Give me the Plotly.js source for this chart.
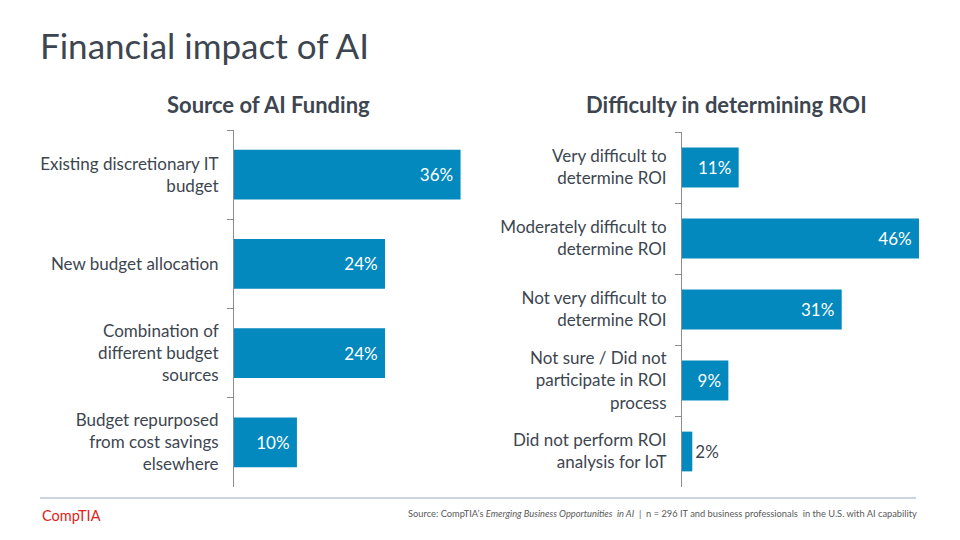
<!DOCTYPE html>
<html><head><meta charset="utf-8">
<script src="https://cdn.plot.ly/plotly-3.0.1.min.js"></script>
<style>html,body{margin:0;padding:0;background:#fff}</style>
</head><body>
<div id="chart" style="width:960px;height:540px"></div>
<script>
const fundingCategories = [
  "Existing discretionary IT<br>budget",
  "New budget allocation",
  "Combination of<br>different budget<br>sources",
  "Budget repurposed<br>from cost savings<br>elsewhere"
];
const fundingValues = [36, 24, 24, 10];

const roiCategories = [
  "Very difficult to<br>determine ROI",
  "Moderately difficult to<br>determine ROI",
  "Not very difficult to<br>determine ROI",
  "Not sure / Did not<br>participate in ROI<br>process",
  "Did not perform ROI<br>analysis for IoT"
];
const roiValues = [11, 46, 31, 9, 2];

const barColor = "#0389BE";
const textDark = "#3d4650";
const font = "Lato, 'Open Sans', sans-serif";

const fundingPos = fundingValues.map(v => v >= 5 ? "inside" : "outside");
const roiPos = roiValues.map(v => v >= 5 ? "inside" : "outside");
const labelText = (v, p) => p === "inside" ? v + "%\u00a0" : v + "%";

const traces = [
  {
    type: "bar", orientation: "h",
    x: fundingValues, y: fundingCategories,
    xaxis: "x", yaxis: "y",
    marker: {color: barColor},
    text: fundingValues.map((v, i) => labelText(v, fundingPos[i])),
    textposition: fundingPos,
    insidetextanchor: "end",
    textfont: {family: font, size: 17, color: fundingPos.map(p => p === "inside" ? "#ffffff" : textDark)},
    cliponaxis: false,
    hoverinfo: "none"
  },
  {
    type: "bar", orientation: "h",
    x: roiValues, y: roiCategories,
    xaxis: "x2", yaxis: "y2",
    marker: {color: barColor},
    text: roiValues.map((v, i) => labelText(v, roiPos[i])),
    textposition: roiPos,
    insidetextanchor: "end",
    textfont: {family: font, size: 17, color: roiPos.map(p => p === "inside" ? "#ffffff" : textDark)},
    cliponaxis: false,
    hoverinfo: "none"
  }
];

const yCommon = {
  type: "category",
  autorange: "reversed",
  showline: true, linecolor: "#8c8c8c", linewidth: 1,
  ticks: "outside", ticklen: 6, tickcolor: "#8c8c8c",
  tickson: "boundaries",
  showgrid: false, zeroline: false,
  ticklabelstandoff: 11,
  tickfont: {family: font, size: 17, color: textDark}
};
const xCommon = {
  showgrid: false, zeroline: false, showline: false, showticklabels: false, ticks: ""
};

const layout = {
  width: 960, height: 540,
  margin: {l: 0, r: 0, t: 0, b: 0},
  paper_bgcolor: "#ffffff", plot_bgcolor: "#ffffff",
  showlegend: false,
  bargap: 0.44,
  xaxis: Object.assign({}, xCommon, {domain: [234/960, 470/960], range: [0, 37.5], anchor: "y"}),
  yaxis: Object.assign({}, yCommon, {domain: [53/540, 410/540], anchor: "x"}),
  xaxis2: Object.assign({}, xCommon, {domain: [682/960, 920/960], range: [0, 46.2], anchor: "y2"}),
  yaxis2: Object.assign({}, yCommon, {domain: [53/540, 408/540], anchor: "x2"}),
  annotations: [
    {xref: "paper", yref: "paper", x: 38/960, y: 1 - 45/540, xanchor: "left", yanchor: "middle",
     text: "Financial impact of AI", showarrow: false,
     font: {family: font, size: 35, color: textDark}},
    {xref: "paper", yref: "paper", x: 268/960, y: 1 - 104/540, xanchor: "center", yanchor: "middle",
     text: "<b>Source of AI Funding</b>", showarrow: false,
     font: {family: font, size: 22, color: textDark}},
    {xref: "paper", yref: "paper", x: 726/960, y: 1 - 104/540, xanchor: "center", yanchor: "middle",
     text: "<b>Difficulty in determining ROI</b>", showarrow: false,
     font: {family: font, size: 22, color: textDark}},
    {xref: "paper", yref: "paper", x: 40/960, y: 1 - 515/540, xanchor: "left", yanchor: "middle",
     text: "CompTIA", showarrow: false,
     font: {family: font, size: 14.5, color: "#e2231a"}},
    {xref: "paper", yref: "paper", x: 919/960, y: 1 - 513/540, xanchor: "right", yanchor: "middle",
     text: "Source: CompTIA’s <i>Emerging Business Opportunities  in AI</i>  |  n = 296 IT and business professionals  in the U.S. with AI capability",
     showarrow: false,
     font: {family: font, size: 9.3, color: "#595959"}}
  ],
  shapes: [
    {type: "line", xref: "paper", yref: "paper", x0: 40/960, x1: 916/960, y0: 1 - 498/540, y1: 1 - 498/540,
     line: {color: "#9aacbf", width: 1}}
  ]
};

Plotly.newPlot("chart", traces, layout, {displayModeBar: false, staticPlot: true});
</script>
</body></html>
